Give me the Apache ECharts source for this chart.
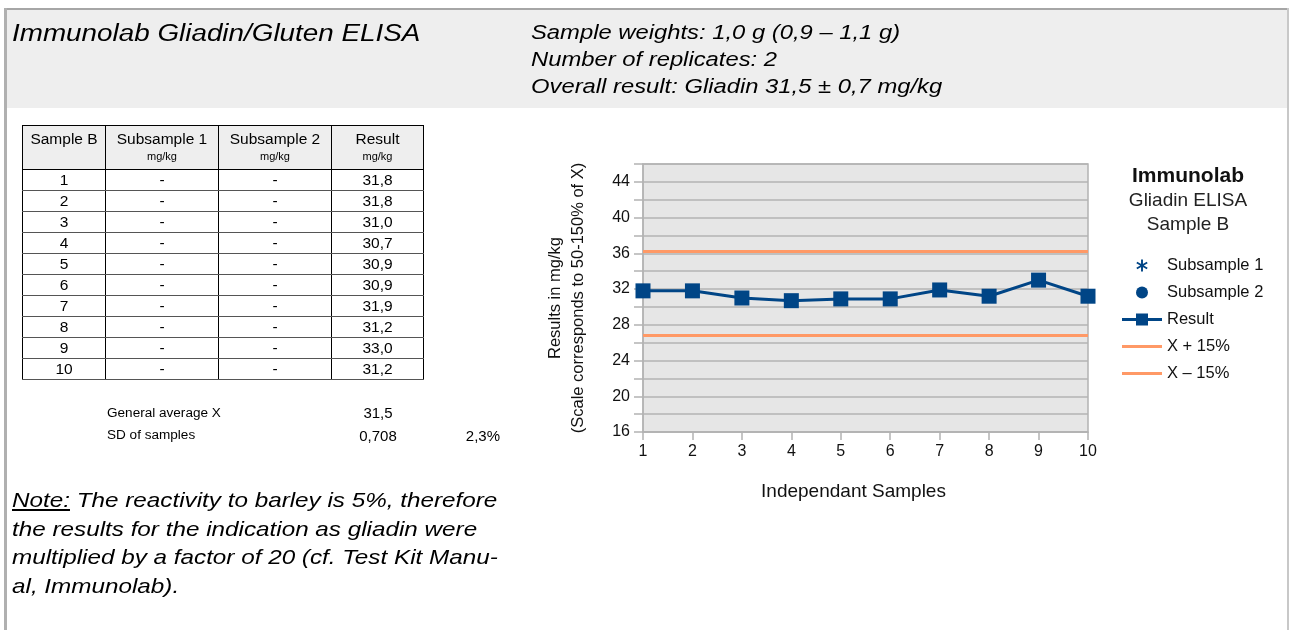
<!DOCTYPE html>
<html>
<head>
<meta charset="utf-8">
<script src="https://cdn.jsdelivr.net/npm/echarts@6/dist/echarts.min.js"></script>
<style>
  html, body { margin: 0; padding: 0; }
  body { width: 1291px; height: 630px; position: relative; overflow: hidden; background: #fff;
         font-family: "Liberation Sans", Arial, sans-serif; color: #000; }
  .abs { position: absolute; }
  .wide { transform-origin: 0 0; white-space: nowrap; }
  #band { left: 7px; top: 10px; width: 1280px; height: 98px; background: #eeeeee; }
  #topline { left: 4px; top: 8px; width: 1285px; height: 2px; background: #a6a6a6; }
  #leftline { left: 4px; top: 8px; width: 3px; height: 622px; background: #b0b0b0; }
  #rightline { left: 1287px; top: 8px; width: 2px; height: 622px; background: #c8c8c8; }
  #title { left: 12px; top: 17px; font-size: 23px; font-style: italic; line-height: 32px; transform: scaleX(1.21); }
  #info { left: 531px; top: 19px; font-size: 20px; font-style: italic; line-height: 27px; transform: scaleX(1.19); }
  #tbl { left: 22px; top: 125px; border-collapse: collapse; font-size: 15.5px; }
  #tbl td, #tbl th { border: 1px solid #000; text-align: center; padding: 0; font-weight: normal; }
  #tbl th { background: #eeeeee; height: 40px; line-height: 19px; vertical-align: top; padding-top: 3px; }
  #tbl th small { display: block; font-size: 11px; line-height: 14px; margin-top: 1px; }
  #tbl td { height: 20px; line-height: 20px; }
  #tbl tbody td { border-top: 1px solid #555; border-bottom: 1px solid #555; }
  .sum { font-size: 12px; transform: scaleX(1.13); }
  .num { font-size: 15px; }
  #note { left: 12px; top: 486px; font-size: 21px; font-style: italic; line-height: 28.7px; transform: scaleX(1.155); }
  #note u { text-decoration: underline; }
  #chart { left: 0; top: 0; width: 1291px; height: 630px; }
</style>
</head>
<body>
<div class="abs" id="band"></div>
<div class="abs" id="topline"></div>
<div class="abs" id="leftline"></div>
<div class="abs" id="rightline"></div>
<div class="abs" id="chart"></div>
<div class="abs wide" id="title">Immunolab Gliadin/Gluten ELISA</div>
<div class="abs wide" id="info">Sample weights: 1,0 g (0,9 – 1,1 g)<br>Number of replicates: 2<br>Overall result: Gliadin 31,5 ± 0,7 mg/kg</div>
<table class="abs" id="tbl">
  <thead>
    <tr>
      <th style="width:82px">Sample B</th>
      <th style="width:112px">Subsample 1<small>mg/kg</small></th>
      <th style="width:112px">Subsample 2<small>mg/kg</small></th>
      <th style="width:91px">Result<small>mg/kg</small></th>
    </tr>
  </thead>
  <tbody id="rows"></tbody>
</table>
<div class="abs sum wide" style="left:107px; top:406px;">General average X</div>
<div class="abs sum wide" style="left:107px; top:428px;">SD of samples</div>
<div class="abs num" id="avg" style="left:343px; top:404px; width:70px; text-align:center;"></div>
<div class="abs num" id="sd" style="left:343px; top:427px; width:70px; text-align:center;"></div>
<div class="abs num" id="cv" style="left:430px; top:427px; width:70px; text-align:right;"></div>
<div class="abs wide" id="note"><u>Note:</u> The reactivity to barley is 5%, therefore<br>the results for the indication as gliadin were<br>multiplied by a factor of 20 (cf. Test Kit Manu-<br>al, Immunolab).</div>

<script>
// data read from the sheet
const categories = ['1', '2', '3', '4', '5', '6', '7', '8', '9', '10'];
const subsample1 = [];
const subsample2 = [];
const resultValues = [31.8, 31.8, 31.0, 30.7, 30.9, 30.9, 31.9, 31.2, 33.0, 31.2];
const generalAverage = 31.5;
const sdSamples = 0.708;
const cvSamples = '2,3%';
const upperLimit = 36.2;   // X + 15%
const lowerLimit = 26.8;   // X - 15%

const blue = '#004586';
const orange = '#ff9966';
const fmt = (v, d) => v.toFixed(d).replace('.', ',');

// table
let html = '';
categories.forEach(function (c, i) {
  html += '<tr><td>' + c + '</td><td>-</td><td>-</td><td>' + fmt(resultValues[i], 1) + '</td></tr>';
});
document.getElementById('rows').innerHTML = html;
document.getElementById('avg').textContent = fmt(generalAverage, 1);
document.getElementById('sd').textContent = fmt(sdSamples, 3);
document.getElementById('cv').textContent = cvSamples;

const asterisk = 'path://M4.2 0H5.8V10H4.2Z M9.73 3.19L1.07 8.19L0.27 6.81L8.93 1.81Z M1.07 1.81L9.73 6.81L8.93 8.19L0.27 3.19Z';
const lineSquareIcon = 'path://M0 4.5H14V0H26V4.5H40V7.5H26V12H14V7.5H0Z';
const lineIcon = 'path://M0 0H40V3H0Z';

let myChart = echarts.init(document.getElementById('chart'));
myChart.setOption({
  animation: false,
  textStyle: { fontFamily: 'Liberation Sans, Arial, sans-serif' },
  title: {
    text: 'Immunolab',
    subtext: 'Gliadin ELISA\nSample B',
    left: 1188,
    top: 164,
    textAlign: 'center',
    itemGap: 1,
    padding: 0,
    textStyle: { fontSize: 21, fontWeight: 'bold', color: '#111', lineHeight: 24 },
    subtextStyle: { fontSize: 19, color: '#222', lineHeight: 24 }
  },
  legend: {
    orient: 'vertical',
    left: 1122,
    top: 257,
    padding: 0,
    itemWidth: 40,
    itemHeight: 12,
    itemGap: 10,
    textStyle: { fontSize: 16.5, color: '#111' },
    data: [
      { name: 'Subsample 1', icon: asterisk },
      { name: 'Subsample 2', icon: 'circle' },
      { name: 'Result', icon: lineSquareIcon },
      { name: 'X + 15%', icon: lineIcon },
      { name: 'X – 15%', icon: lineIcon }
    ]
  },
  grid: {
    left: 643, top: 164, width: 445, height: 268,
    show: true, backgroundColor: '#e6e6e6', borderColor: '#b3b3b3', borderWidth: 1.5,
    containLabel: false
  },
  xAxis: {
    type: 'category',
    data: categories,
    boundaryGap: false,
    name: 'Independant Samples',
    nameLocation: 'middle',
    nameGap: 50,
    nameTextStyle: { fontSize: 19, color: '#111', padding: [0, 24, 0, 0] },
    axisLine: { lineStyle: { color: '#b3b3b3', width: 1.5 } },
    axisTick: { show: true, length: 8, lineStyle: { color: '#b3b3b3', width: 1.5 } },
    axisLabel: { fontSize: 16, color: '#111', margin: 12 },
    splitLine: { show: false }
  },
  yAxis: {
    type: 'value',
    min: 16,
    max: 46,
    interval: 2,
    name: 'Results in mg/kg\n(Scale corresponds to 50-150% of X)',
    nameLocation: 'middle',
    nameRotate: 90,
    nameGap: 53,
    nameTextStyle: { fontSize: 16.5, color: '#111', lineHeight: 23 },
    axisLine: { show: true, lineStyle: { color: '#b3b3b3', width: 1.5 } },
    axisTick: { show: true, length: 9, lineStyle: { color: '#b3b3b3', width: 1.5 } },
    axisLabel: {
      fontSize: 16, color: '#111', margin: 13,
      formatter: function (v) { return (v - 16) % 4 === 0 ? String(v) : ''; }
    },
    splitLine: { lineStyle: { color: '#b3b3b3', width: 1.5 } }
  },
  series: [
    {
      name: 'Subsample 1', type: 'scatter', data: subsample1,
      symbol: asterisk, symbolSize: 10, itemStyle: { color: blue, opacity: 1 }
    },
    {
      name: 'Subsample 2', type: 'scatter', data: subsample2,
      symbol: 'circle', symbolSize: 10, itemStyle: { color: blue, opacity: 1 }
    },
    {
      name: 'Result', type: 'line', data: resultValues,
      symbol: 'rect', symbolSize: 15,
      itemStyle: { color: blue },
      lineStyle: { color: blue, width: 3 },
      z: 5
    },
    {
      name: 'X + 15%', type: 'line', data: categories.map(function () { return upperLimit; }),
      symbol: 'none', itemStyle: { color: orange }, lineStyle: { color: orange, width: 3 }
    },
    {
      name: 'X – 15%', type: 'line', data: categories.map(function () { return lowerLimit; }),
      symbol: 'none', itemStyle: { color: orange }, lineStyle: { color: orange, width: 3 }
    }
  ]
});
</script>
</body>
</html>
